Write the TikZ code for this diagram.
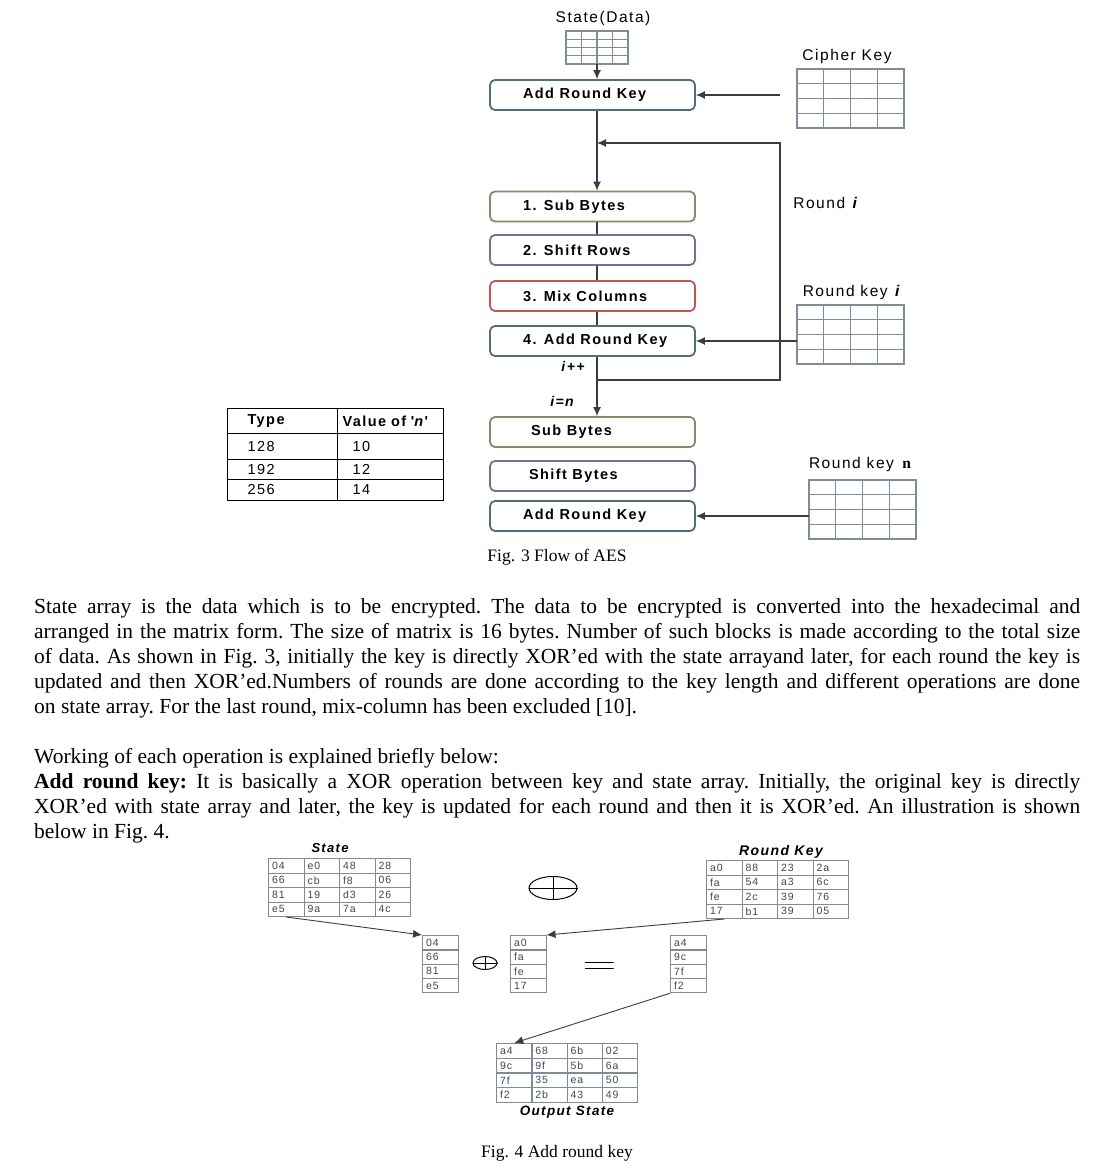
\documentclass[tikz,border=0pt]{standalone}
\usepackage{fontspec}
\setmainfont{Liberation Serif}
\newfontfamily\figsans[LetterSpace=10]{Liberation Sans}
\usetikzlibrary{arrows.meta,calc,shapes.geometric}
\definecolor{cGreen} {RGB}{120,145,105}
\definecolor{cPurple}{RGB}{130,105,145}
\definecolor{cRed}   {RGB}{195,85,85}
\definecolor{cSlate} {RGB}{80,110,125}
\definecolor{cGrid}  {RGB}{125,140,155}
\definecolor{cLine}  {RGB}{60,60,60}
\definecolor{cCell}  {RGB}{70,70,70}
\newcommand{\fs}[1]{\fontsize{#1}{#1}\selectfont}
\newcommand{\lt}[1]{\makebox[139pt][l]{#1}}
% empty 4x4 key grid: name, left, top, width, height
\newcommand{\kgrid}[5]{%
  \node[gridbox, minimum width=#4pt, minimum height=#5pt, anchor=north west] (#1) at (#2,#3) {};
  \foreach \k in {1,2,3} {
    \draw[gridline] ($(#1.north west)!\k/4!(#1.north east)$) -- ($(#1.south west)!\k/4!(#1.south east)$);
    \draw[gridline] ($(#1.north west)!\k/4!(#1.south west)$) -- ($(#1.north east)!\k/4!(#1.south east)$);
  }}
\tikzset{
  stepbox/.style = {draw, line width=1.8pt, rounded corners=5pt, fill=white,
                    minimum width=205pt, minimum height=30pt, inner sep=0pt,
                    font=\figsans\bfseries\fs{14.5}},
  sbB/.style     = {stepbox, draw=cGreen},
  srB/.style     = {stepbox, draw=cPurple},
  mcB/.style     = {stepbox, draw=cRed},
  akB/.style     = {stepbox, draw=cSlate},
  lbl/.style     = {font=\figsans\fs{15.5}, inner sep=0pt},
  ilbl/.style    = {font=\figsans\bfseries\itshape\fs{14}, inner sep=0pt},
  gridbox/.style = {draw=cGrid, line width=1.1pt, inner sep=0pt, outer sep=0pt},
  gridline/.style= {cGrid, line width=1.1pt},
  hexcell/.style = {draw=cGrid, line width=1pt, anchor=north west, inner ysep=0pt,
                    inner xsep=3.5pt, text width=28.5pt, align=left, minimum height=14.5pt,
                    font=\figsans\fs{10.5}, text=cCell},
  tcell/.style   = {draw, line width=1pt, anchor=north west, inner ysep=0pt, align=left,
                    font=\figsans\fs{14.5}},
  tcolA/.style   = {tcell, inner xsep=20pt, text width=70pt},
  tcolB/.style   = {tcell, inner xsep=15pt, text width=76pt},
  tcolH/.style   = {tcell, inner xsep=5pt, text width=96pt},
  xorB/.style    = {draw, ellipse, line width=1pt, inner sep=0pt},
  body/.style    = {anchor=base west, inner sep=0pt, text width=1046pt, align=justify,
                    font=\fontsize{21.5}{25}\selectfont\frenchspacing},
  capt/.style    = {font=\fs{17.5}, inner sep=0pt},
  A/.style       = {-{Latex[length=9pt,width=8pt]}, cLine, line width=1.2pt},
  L/.style       = {cLine, line width=1.5pt},
}
\begin{document}
\begin{tikzpicture}[x=1pt,y=-1pt]
\useasboundingbox (0,0) rectangle (1108,1169);
\fill[white] (0,0) rectangle (1108,1169);

%% Fig. 3: flow of AES
\node[lbl] (stlbl) at (603,18) {State(Data)};
\kgrid{sgrid}{566}{31}{62}{33}
\node[lbl] (cklbl) at (847,56) {Cipher Key};
\kgrid{ckgrid}{797}{69}{107}{59}

\coordinate (spine) at (597,0);
\node[akB] (ark0) at (592.5,95)  {\lt{Add Round Key}};
\node[sbB] (sb1)  at (592.5,206.5) {\lt{1. Sub Bytes}};
\node[srB] (sr)   at (592.5,250) {\lt{2. Shift Rows}};
\node[mcB] (mc)   at (592.5,296) {\lt{3. Mix Columns}};
\node[akB] (ark4) at (592.5,341) {\lt{4. Add Round Key}};
\node[sbB] (sbn)  at (592.5,432) {\lt{\hspace*{8pt}Sub Bytes}};
\node[srB] (shb)  at (592.5,476) {\lt{\hspace*{6pt}Shift Bytes}};
\node[akB] (arkn) at (592.5,516) {\lt{Add Round Key}};

\node[lbl] (rilbl)  at (826,203) {Round \textbf{\textit{i}}};
\node[lbl] (rkilbl) at (852,292) {Round key \textbf{\textit{i}}};
\kgrid{rkgrid}{797}{305}{107}{59}
\node[lbl] (rknlbl) at (860,464) {Round key\, {\rmfamily\bfseries n}};
\kgrid{rkngrid}{809}{480}{107}{59}
\node[ilbl] (ipp) at (573,366) {i++};
\node[ilbl] (ien) at (562,401) {i=n};

\coordinate (looptop) at (780,143);
\coordinate (loopbot) at (780,380);

\draw[A] (spine |- sgrid.south) -- (spine |- ark0.north);
\draw[A] ([xshift=-17pt]ckgrid.west |- ark0.east) -- (ark0.east);
\draw[A] (spine |- ark0.south) -- (spine |- sb1.north);
\draw[L] (spine |- sb1.south) -- (spine |- sr.north);
\draw[L] (spine |- sr.south) -- (spine |- mc.north);
\draw[L] (spine |- mc.south) -- (spine |- ark4.north);
\draw[A] (spine |- ark4.south) -- (spine |- sbn.north);
\draw[A] (spine |- loopbot) -- (loopbot) -- (looptop) -- (spine |- looptop);
\draw[A] (rkgrid.west |- ark4.east) -- (ark4.east);
\draw[A] (rkngrid.west |- arkn.east) -- (arkn.east);

%% table of rounds
\node[tcolA, minimum height=25pt] (t00) at (227,408) {\textbf{Type}};
\node[tcolH, minimum height=25pt] (t01) at (337,408) {\textbf{Value of '\textit{n}'}};
\node[tcolA, minimum height=26pt] (t10) at (227,433) {128};
\node[tcolB, minimum height=26pt] (t11) at (337,433) {10};
\node[tcolA, minimum height=20pt] (t20) at (227,459) {192};
\node[tcolB, minimum height=20pt] (t21) at (337,459) {12};
\node[tcolA, minimum height=21pt] (t30) at (227,479) {256};
\node[tcolB, minimum height=21pt] (t31) at (337,479) {14};

\node[capt] (cap3) at (557,557) {Fig. 3 Flow of AES};

%% body text
\node[body] (par1) at (34,613)
  {State array is the data which is to be encrypted. The data to be encrypted is converted into the hexadecimal and\linebreak
   arranged in the matrix form. The size of matrix is 16 bytes. Number of such blocks is made according to the total size\linebreak
   of data. As shown in Fig. 3, initially the key is directly XOR’ed with the state arrayand later, for each round the key is\linebreak
   updated and then XOR’ed.Numbers of rounds are done according to the key length and different operations are done\linebreak
   on state array. For the last round, mix-column has been excluded [10].};
\node[body] (par2) at (34,763)
  {Working of each operation is explained briefly below:\\
   \textbf{Add round key:} It is basically a XOR operation between key and state array. Initially, the original key is directly\linebreak
   XOR’ed with state array and later, the key is updated for each round and then it is XOR’ed. An illustration is shown\linebreak
   below in Fig. 4.};

%% Fig. 4: add round key
\node[ilbl, font=\figsans\bfseries\itshape\fs{13}] (stl) at (330,848) {State};
\node[ilbl, font=\figsans\bfseries\itshape\fs{14}] (rkl) at (781,852) {Round Key};
\foreach \r/\row in {0/{04,e0,48,28},1/{66,cb,f8,06},2/{81,19,d3,26},3/{e5,9a,7a,4c}}
  \foreach \v [count=\c from 0] in \row
    \node[hexcell] (st-\r-\c) at (268+\c*35.5,858+\r*14.5) {\v};
\foreach \r/\row in {0/{a0,88,23,2a},1/{fa,54,a3,6c},2/{fe,2c,39,76},3/{17,b1,39,05}}
  \foreach \v [count=\c from 0] in \row
    \node[hexcell] (rk-\r-\c) at (706+\c*35.5,860+\r*14.5) {\v};
\foreach \v [count=\r from 0] in {04,66,81,e5}
  \node[hexcell] (ca-\r) at (422,935+\r*14.25) {\v};
\foreach \v [count=\r from 0] in {a0,fa,fe,17}
  \node[hexcell] (cb-\r) at (510,935+\r*14.25) {\v};
\foreach \v [count=\r from 0] in {a4,9c,7f,f2}
  \node[hexcell] (cc-\r) at (670,935+\r*14.25) {\v};
\foreach \r/\row in {0/{a4,68,6b,02},1/{9c,9f,5b,6a},2/{7f,35,ea,50},3/{f2,2b,43,49}}
  \foreach \v [count=\c from 0] in \row
    \node[hexcell] (out-\r-\c) at (496+\c*35.25,1043+\r*14.75) {\v};
\node[ilbl, font=\figsans\bfseries\itshape\fs{13.5}] (outl) at (567,1112) {Output State};

\node[xorB, minimum width=48pt, minimum height=23pt] (xbig) at (553,888) {};
\draw[line width=1pt] (xbig.north) -- (xbig.south) (xbig.west) -- (xbig.east);
\node[xorB, minimum width=24pt, minimum height=13pt] (xsml) at (485,963) {};
\draw[line width=1pt] (xsml.north) -- (xsml.south) (xsml.west) -- (xsml.east);
\node[minimum width=29pt, minimum height=6pt, inner sep=0pt,
      path picture={\draw[line width=1pt] (path picture bounding box.north west) -- (path picture bounding box.north east)
                    (path picture bounding box.south west) -- (path picture bounding box.south east);}]
  (eq) at (599,965) {};

\draw[A, line width=0.9pt] (st-3-0.south) -- (ca-0.north west);
\draw[A, line width=0.9pt] (rk-3-0.south) -- (cb-0.north east);
\draw[A, line width=0.9pt] (cc-3.south west) -- (out-0-0.north);

\node[capt] (cap4) at (557,1153) {Fig. 4 Add round key};
\end{tikzpicture}
\end{document}
